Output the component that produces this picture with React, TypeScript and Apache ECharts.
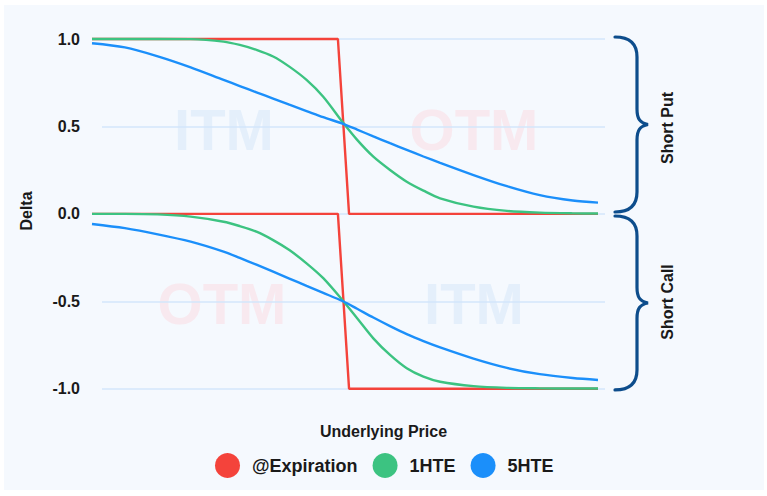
import React, { useEffect, useRef } from "react";
import * as echarts from "echarts";

// Underlying price positions (arbitrary units, 0..100)
const prices = [0, 6.5, 13, 19.5, 26, 29.2, 32.5, 35.8, 39, 42.4, 45.7, 49.6, 52.4, 55.6, 58.9, 62.2, 65.5, 68.8, 75.4, 82, 88.5, 95, 100];
const expiryPrices = [0, 48.6, 50.8, 100];

// @Expiration
const expirationPut = [1, 1, 0, 0];
const expirationCall = [0, 0, -1, -1];

// 1HTE
const hte1Put = [1, 1, 1, 0.999, 0.985, 0.966, 0.938, 0.9, 0.842, 0.766, 0.67, 0.522, 0.423, 0.327, 0.251, 0.184, 0.133, 0.089, 0.041, 0.017, 0.007, 0.003, 0.002];
const hte1Call = [0, 0, -0.003, -0.016, -0.045, -0.07, -0.102, -0.15, -0.207, -0.283, -0.368, -0.497, -0.597, -0.712, -0.807, -0.883, -0.931, -0.96, -0.985, -0.995, -0.998, -0.999, -0.999];

// 5HTE
const hte5Put = [0.976, 0.952, 0.901, 0.838, 0.766, 0.731, 0.695, 0.659, 0.624, 0.588, 0.553, 0.515, 0.482, 0.443, 0.404, 0.366, 0.328, 0.292, 0.222, 0.158, 0.107, 0.076, 0.064];
const hte5Call = [-0.058, -0.082, -0.117, -0.159, -0.216, -0.252, -0.291, -0.331, -0.37, -0.412, -0.452, -0.5, -0.543, -0.593, -0.642, -0.688, -0.728, -0.764, -0.828, -0.881, -0.917, -0.939, -0.95];

const yTicks = [-1, -0.5, 0, 0.5, 1];
const legendNames = ["@Expiration", "1HTE", "5HTE"];
const colors = { red: "#f4433b", green: "#3cc381", blue: "#1b8ffa" };

const FONT = "'Liberation Sans', Arial, Helvetica, sans-serif";
const BRACE = "M0,0 C13,0 22,5 22,20 L22,72 C22,82 25,86 33,87.5 C25,89 22,93 22,103 L22,155 C22,170 13,175 0,175";

let registered = false;

function zip(xs: number[], ys: number[]) {
  return xs.map((x, i) => [x, ys[i]]);
}

export default function App() {
  const ref = useRef<HTMLDivElement>(null);
  useEffect(() => {
    if (!ref.current) return;
    if (!registered) {
      echarts.graphic.registerShape("brace", echarts.graphic.extendPath(BRACE, {}) as any);
      registered = true;
    }
    const chart = echarts.init(ref.current, null, { renderer: "svg" });
    const lineBase = (name: string, color: string, data: number[][], smooth: boolean) => ({
      name,
      type: "line",
      xAxisIndex: 1,
      yAxisIndex: 1,
      data,
      symbol: "none",
      smooth: smooth ? 0.3 : false,
      clip: false,
      lineStyle: { color, width: 2.4 },
      itemStyle: { color },
      z: 3,
    });
    const braceStyle = { fill: "none", stroke: "#0d4d8c", lineWidth: 3.2, lineCap: "round" };
    const wm = (text: string, x: number, y: number, fill: string) => ({
      type: "text",
      x,
      y,
      z: -5,
      style: { text, fill, font: `bold 58px ${FONT}`, align: "center", verticalAlign: "middle" },
    });
    const label = (text: string, x: number, y: number, rotate: boolean) => ({
      type: "text", x, y, rotation: rotate ? Math.PI / 2 : 0, z: 5,
      style: { text, fill: "#1a1a1a", font: `bold 16px ${FONT}`, align: "center", verticalAlign: "middle" },
    });
    chart.setOption({
      animation: false,
      backgroundColor: "#ffffff",
      graphic: [
        { type: "rect", z: -10, shape: { x: 4, y: 5, width: 760, height: 485 }, style: { fill: "#f5f9fe" } },
        wm("ITM", 224, 129, "#e4effb"),
        wm("OTM", 474, 129, "#f8e9ef"),
        wm("OTM", 222, 303, "#f8e9ef"),
        wm("ITM", 474, 303, "#e4effb"),
        { type: "brace", x: 615, y: 37, z: 5, style: braceStyle },
        { type: "brace", x: 615, y: 216, scaleY: 174 / 175, z: 5, style: braceStyle },
        label("Short Put", 667, 128, true),
        label("Short Call", 667, 302, true),
        label("Underlying Price", 383.5, 431, false),
        label("Delta", 26, 211, true),
      ],
      grid: [
        { left: 102, right: 162, top: 39, bottom: 107.3 },
        { left: 92, right: 169, top: 39, bottom: 107.3 },
      ],
      legend: {
        data: legendNames,
        icon: "circle",
        left: 215,
        top: 453,
        padding: 0,
        itemWidth: 25,
        itemHeight: 25,
        itemGap: 15,
        textStyle: { fontFamily: FONT, fontWeight: "bold", fontSize: 18, color: "#1a1a1a", padding: [0, 0, 0, 7] },
      },
      xAxis: [
        { type: "value", gridIndex: 0, min: 0, max: 100, show: false },
        { type: "value", gridIndex: 1, min: 0, max: 100, show: false },
      ],
      yAxis: [
        {
          type: "value", gridIndex: 0, min: yTicks[0], max: yTicks[yTicks.length - 1], interval: 0.5,
          axisLine: { show: false }, axisTick: { show: false },
          axisLabel: {
            margin: 22, fontFamily: FONT, fontWeight: "bold", fontSize: 16, color: "#1a1a1a",
            formatter: (v: number) => v.toFixed(1),
          },
          splitLine: { lineStyle: { color: "#d3e6fb", width: 1.6 } },
        },
        { type: "value", gridIndex: 1, min: -1, max: 1, show: false },
      ],
      series: [
        lineBase("@Expiration", colors.red, zip(expiryPrices, expirationPut), false),
        lineBase("@Expiration", colors.red, zip(expiryPrices, expirationCall), false),
        lineBase("1HTE", colors.green, zip(prices, hte1Put), true),
        lineBase("1HTE", colors.green, zip(prices, hte1Call), true),
        lineBase("5HTE", colors.blue, zip(prices, hte5Put), true),
        lineBase("5HTE", colors.blue, zip(prices, hte5Call), true),
      ],
    });
    return () => chart.dispose();
  }, []);
  return <div ref={ref} style={{ position: "absolute", left: 0, top: 0, width: 767, height: 496 }} />;
}
